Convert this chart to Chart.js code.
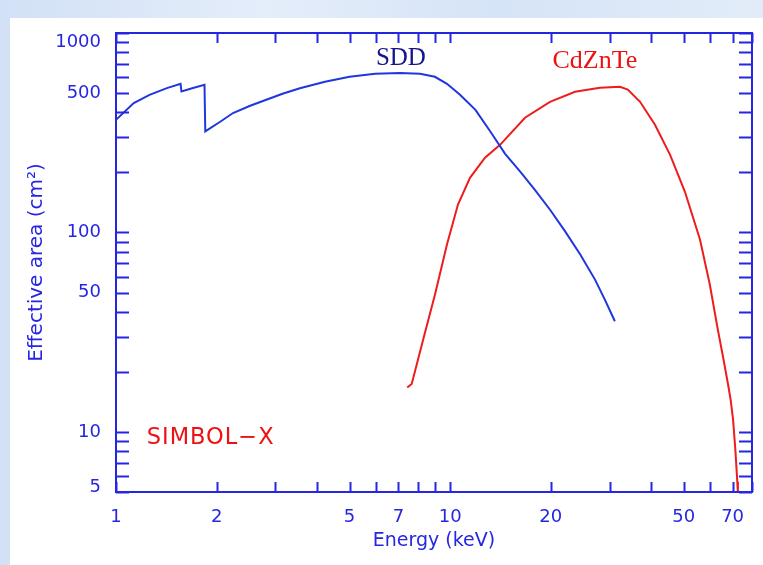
<!DOCTYPE html>
<html>
<head>
<meta charset="utf-8">
<script src="https://cdn.jsdelivr.net/npm/chart.js@4.4.1/dist/chart.umd.min.js"></script>
<style>
  html, body { margin: 0; padding: 0; }
  body {
    width: 763px; height: 565px; position: relative; overflow: hidden;
    background: linear-gradient(90deg, #d2e1f6 0%, #e4edfa 35%, #d6e4f7 65%, #e2ecf9 100%);
  }
  #panel { position: absolute; left: 10px; top: 18px; right: 0; bottom: 0; background: #fff; }
  #chart { position: absolute; left: 0; top: 0; }
</style>
</head>
<body>
<div id="panel"></div>
<canvas id="chart" width="763" height="565"></canvas>
<script>
// Energy (keV) and effective area (cm2)
const sddEnergy = [1.0, 1.13, 1.26, 1.42, 1.56, 1.57, 1.70, 1.84, 1.85, 2.05, 2.24, 2.52, 2.83, 3.15, 3.55, 4.22, 5.0,
  5.96, 7.08, 8.12, 9.0, 9.78, 10.7, 11.9, 13.2, 14.6, 16.2, 17.9, 19.9, 22.1, 24.5, 27.1, 29.0, 31.1];
const sddArea = [367, 445, 490, 529, 556, 509, 530, 550, 321, 359, 397, 432, 464, 496, 528, 570, 603,
  624, 631, 624, 603, 556, 490, 412, 320, 248, 202, 164, 130, 101, 77.6, 58.2, 46.2, 35.9];

const czdEnergy = [7.44, 7.67, 8.31, 9.01, 9.78, 10.55, 11.46, 12.71, 14.1, 16.74, 19.89, 23.63, 28.07, 32.2,
  34.0, 37.0, 41.0, 45.5, 50.4, 55.9, 59.8, 63.2, 65.7, 67.8, 69.0, 70.2, 71.3, 72.3, 72.6];
const czdArea = [16.7, 17.4, 29.2, 49, 87.1, 138, 188, 237, 275, 376, 452, 507, 531, 537,
  520, 452, 347, 245, 160, 92.3, 55, 32.7, 23.2, 17.4, 14.6, 11.6, 8.22, 5.62, 4.9];

const xTickValues = [1, 2, 3, 4, 5, 6, 7, 8, 9, 10, 20, 30, 40, 50, 60, 70, 80];
const xTickLabels = {1: '1', 2: '2', 5: '5', 7: '7', 10: '10', 20: '20', 50: '50', 70: '70'};
const yTickValues = [5, 6, 7, 8, 9, 10, 20, 30, 40, 50, 60, 70, 80, 90, 100, 200, 300, 400, 500, 600, 700, 800, 900, 1000];
const yTickLabels = {5: ['5', ''], 10: '10', 50: '50', 100: '100', 500: '500', 1000: ['', '1000']};

const notes = [
  {text: 'SDD', x: 7.12, y: 745, color: '#14148c', font: '25px "Liberation Serif", serif', spacing: '0px'},
  {text: 'CdZnTe', x: 27.1, y: 725, color: '#ee1111', font: '26px "Liberation Serif", serif', spacing: '0px'},
  {text: 'SIMBOL\u2212X', x: 1.92, y: 9.3, color: '#ee1111', font: '22.5px "DejaVu Sans", sans-serif', spacing: '1px'}
];

const axisBlue = '#2626e2';
const fontFamily = '"DejaVu Sans", sans-serif';

const framePlugin = {
  id: 'frame',
  afterDraw(chart) {
    const {ctx, chartArea: a, scales: {x, y}} = chart;
    ctx.save();
    ctx.strokeStyle = axisBlue;
    ctx.lineWidth = 2;
    ctx.strokeRect(a.left, a.top, a.right - a.left, a.bottom - a.top);
    ctx.beginPath();
    x.ticks.forEach(t => {
      const px = Math.round(x.getPixelForValue(t.value)) + 0.5;
      ctx.moveTo(px, a.bottom); ctx.lineTo(px, a.bottom - 10);
      ctx.moveTo(px, a.top); ctx.lineTo(px, a.top + 10);
    });
    y.ticks.forEach(t => {
      const py = Math.round(y.getPixelForValue(t.value)) + 0.5;
      ctx.moveTo(a.left, py); ctx.lineTo(a.left + 13, py);
      ctx.moveTo(a.right, py); ctx.lineTo(a.right - 13, py);
    });
    ctx.stroke();

    ctx.textAlign = 'center';
    ctx.textBaseline = 'middle';
    notes.forEach(n => {
      ctx.font = n.font;
      ctx.fillStyle = n.color;
      ctx.letterSpacing = n.spacing;
      ctx.fillText(n.text, x.getPixelForValue(n.x), y.getPixelForValue(n.y));
    });
    ctx.restore();
  }
};

new Chart(document.getElementById('chart'), {
  type: 'line',
  data: {
    datasets: [
      {
        label: 'SDD',
        data: sddEnergy.map((e, i) => ({x: e, y: sddArea[i]})),
        borderColor: '#1f37dc',
        borderWidth: 2,
        pointRadius: 0,
        tension: 0
      },
      {
        label: 'CdZnTe',
        data: czdEnergy.map((e, i) => ({x: e, y: czdArea[i]})),
        borderColor: '#ee1c1c',
        borderWidth: 2,
        pointRadius: 0,
        tension: 0
      }
    ]
  },
  options: {
    responsive: false,
    animation: false,
    layout: {padding: {left: 0, right: 11, top: 33, bottom: 0}},
    plugins: {legend: {display: false}, tooltip: {enabled: false}},
    scales: {
      x: {
        type: 'logarithmic',
        min: 1,
        max: 80,
        grid: {display: false, drawTicks: true, tickLength: 6},
        border: {display: false},
        afterBuildTicks: s => { s.ticks = xTickValues.map(v => ({value: v})); },
        afterFit: s => { s.height = 73; },
        ticks: {
          autoSkip: false,
          maxRotation: 0,
          padding: 9,
          color: axisBlue,
          font: {family: fontFamily, size: 18},
          callback: v => xTickLabels[v] || ''
        },
        title: {
          display: true,
          text: 'Energy (keV)',
          color: axisBlue,
          font: {family: fontFamily, size: 19},
          padding: {top: 0, bottom: 13}
        }
      },
      y: {
        type: 'logarithmic',
        min: 5,
        max: 1000,
        grid: {display: false, drawTicks: true, tickLength: 8},
        border: {display: false},
        afterBuildTicks: s => { s.ticks = yTickValues.map(v => ({value: v})); },
        afterFit: s => { s.width = 116; },
        ticks: {
          autoSkip: false,
          padding: 7,
          color: axisBlue,
          font: c => {
            const v = c.tick ? c.tick.value : 0;
            if (v === 1000) return {family: fontFamily, size: 18, lineHeight: 1.0};
            if (v === 5) return {family: fontFamily, size: 18, lineHeight: 0.56};
            return {family: fontFamily, size: 18};
          },
          callback: v => yTickLabels[v] || ''
        },
        title: {
          display: true,
          text: 'Effective area (cm\u00b2)',
          color: axisBlue,
          font: {family: fontFamily, size: 20},
          padding: {top: 25, bottom: 0}
        }
      }
    }
  },
  plugins: [framePlugin]
});
</script>
</body>
</html>
